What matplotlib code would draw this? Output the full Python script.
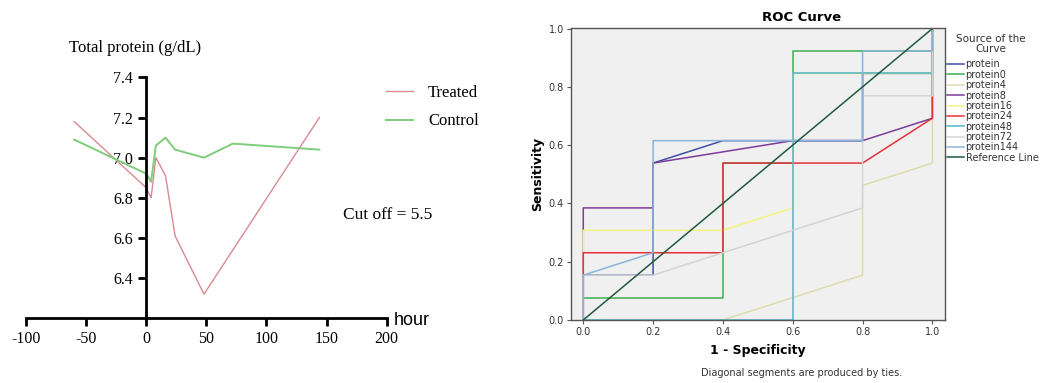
import matplotlib
matplotlib.use('Agg')
import matplotlib.pyplot as plt

plt.rcParams['axes.unicode_minus'] = False

# Left panel: total protein over time
hours = [-60, 0, 4, 8, 16, 24, 48, 72, 144]
treated = [7.18, 6.85, 6.80, 7.00, 6.91, 6.61, 6.32, 6.54, 7.20]
control = [7.09, 6.92, 6.88, 7.06, 7.10, 7.04, 7.00, 7.07, 7.04]

# Right panel: ROC curves (13 positives, 5 negatives)
roc_names = ['protein', 'protein0', 'protein4', 'protein8', 'protein16',
             'protein24', 'protein48', 'protein72', 'protein144']
roc_fpr = [
    [0, 0, 0.2, 0.2, 0.4, 0.8, 0.8, 1.0, 1.0],
    [0, 0, 0.4, 0.4, 0.6, 0.6, 1.0, 1.0],
    [0, 0.4, 0.8, 0.8, 1.0, 1.0],
    [0, 0, 0.2, 0.2, 0.6, 0.8, 1.0, 1.0],
    [0, 0, 0.4, 0.6, 0.6, 0.8, 1.0, 1.0],
    [0, 0, 0, 0.4, 0.4, 0.8, 1.0, 1.0, 1.0],
    [0, 0.6, 0.6, 1.0, 1.0],
    [0, 0, 0.2, 0.8, 0.8, 1.0, 1.0],
    [0, 0, 0.2, 0.2, 0.8, 0.8, 1.0, 1.0],
]
roc_tpr13 = [
    [0, 2, 2, 7, 8, 8, 11, 11, 13],
    [0, 1, 1, 7, 7, 12, 12, 13],
    [0, 0, 2, 6, 7, 13],
    [0, 5, 5, 7, 8, 8, 9, 13],
    [0, 4, 4, 5, 11, 11, 11, 13],
    [0, 2, 3, 3, 7, 7, 9, 10, 13],
    [0, 0, 11, 11, 13],
    [0, 2, 2, 5, 10, 10, 13],
    [0, 2, 3, 8, 8, 12, 12, 13],
]
roc_colors = ['#3f4ea8', '#3fae4f', '#dcdcae', '#7d3c98', '#f4f480',
              '#e4323a', '#4fb6c6', '#d4d4d4', '#8ab4dc']
ref_color = '#1f5a3c'

fig = plt.figure(figsize=(10.46, 3.83), dpi=100)

# ---- left panel ----
ax1 = fig.add_axes([0.0249, 0.169, 0.3448, 0.629])
ax1.plot(hours, treated, color='#d98a92', lw=1.0, label='Treated', clip_on=False)
ax1.plot(hours, control, color='#7fcc7a', lw=1.4, label='Control', clip_on=False)
ax1.set_xlim(-100, 200)
ax1.set_ylim(6.2, 7.4)
ax1.spines['left'].set_position(('data', 0))
ax1.spines['top'].set_visible(False)
ax1.spines['right'].set_visible(False)
ax1.spines['left'].set_linewidth(2)
ax1.spines['bottom'].set_linewidth(2)
ax1.set_xticks([-100, -50, 0, 50, 100, 150, 200])
ax1.set_yticks([6.4, 6.6, 6.8, 7.0, 7.2, 7.4])
ax1.set_yticklabels(['6.4', '6.6', '6.8', '7.0', '7.2', '7.4'])
ax1.tick_params(direction='out', length=6, width=2, labelsize=11.5)
for lab in ax1.get_xticklabels() + ax1.get_yticklabels():
    lab.set_fontfamily('Liberation Serif')
ax1.set_facecolor('none')
ax1.text(206, 6.19, 'hour', fontsize=13, family='Liberation Sans',
         ha='left', va='center')
fig.text(0.129, 0.875, 'Total protein (g/dL)', fontsize=12,
         family='Liberation Serif', ha='center', va='center')
fig.text(0.328, 0.438, 'Cut off = 5.5', fontsize=12.5,
         family='Liberation Serif', ha='left', va='center')
leg1 = ax1.legend(loc='center left', bbox_to_anchor=(0.355, 0.72),
                  bbox_transform=fig.transFigure, frameon=False,
                  handlelength=1.6, handletextpad=0.9, labelspacing=0.75,
                  prop={'family': 'Liberation Serif', 'size': 12})

# ---- right panel ----
ax2 = fig.add_axes([0.5456, 0.1645, 0.3578, 0.7632])
ax2.set_facecolor('#f0f0f0')
for name, fpr, tpr, col in zip(roc_names, roc_fpr, roc_tpr13, roc_colors):
    ax2.plot(fpr, [t / 13 for t in tpr], color=col, lw=1.1, label=name)
ax2.plot([0, 1], [0, 1], color=ref_color, lw=1.1, label='Reference Line')
ax2.set_xlim(-0.036, 1.036)
ax2.set_ylim(0, 1.003)
ax2.set_xticks([0, 0.2, 0.4, 0.6, 0.8, 1.0])
ax2.set_yticks([0, 0.2, 0.4, 0.6, 0.8, 1.0])
ax2.set_xticklabels(['0.0', '0.2', '0.4', '0.6', '0.8', '1.0'])
ax2.set_yticklabels(['0.0', '0.2', '0.4', '0.6', '0.8', '1.0'])
ax2.tick_params(direction='out', length=3, width=0.8, color='#555555',
                labelsize=7, labelcolor='#333333', pad=2)
for sp in ax2.spines.values():
    sp.set_color('#555555')
    sp.set_linewidth(1.0)
ax2.set_xlabel('1 - Specificity', fontsize=9, fontweight='bold', labelpad=5)
ax2.set_ylabel('Sensitivity', fontsize=9, fontweight='bold', labelpad=3)
fig.text(0.766, 0.955, 'ROC Curve', fontsize=9.5, fontweight='bold',
         ha='center', va='center')
fig.text(0.766, 0.026, 'Diagonal segments are produced by ties.',
         fontsize=7, color='#333333', ha='center', va='center')
fig.text(0.947, 0.885, 'Source of the\nCurve', fontsize=7.5,
         color='#333333', ha='center', va='center', multialignment='center',
         linespacing=1.0)
leg2 = ax2.legend(loc='upper left', bbox_to_anchor=(0.905, 0.845),
                  bbox_transform=fig.transFigure, frameon=False,
                  fontsize=7, handlelength=1.75, handletextpad=0.2,
                  labelspacing=0.04, borderpad=0, borderaxespad=0)
for t in leg2.get_texts():
    t.set_color('#333333')

fig.savefig('out.png', dpi=100)
